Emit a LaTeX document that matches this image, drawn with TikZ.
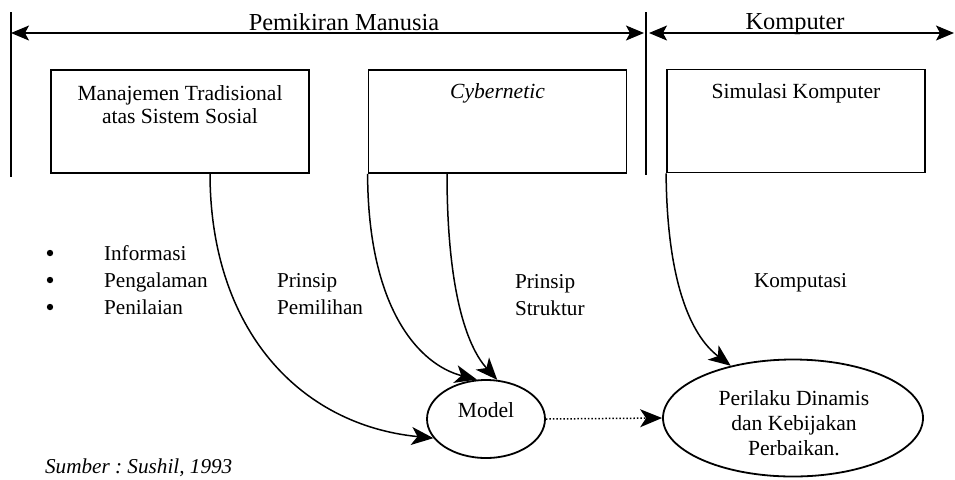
\documentclass[tikz,border=0pt]{standalone}
\usepackage{fontspec}
\setmainfont{Liberation Serif}
\usetikzlibrary{arrows.meta,shapes.geometric}
\frenchspacing
\begin{document}
\begin{tikzpicture}[x=0.5pt,y=-0.5pt,
  frame/.style={draw,line width=0.9pt,minimum width=129pt,minimum height=51.5pt,inner sep=0pt},
  oval/.style={draw,ellipse,line width=0.9pt,inner sep=0pt},
  boxtext/.style={font=\fontsize{10.8}{11.5}\selectfont,align=center,anchor=base},
  lbl/.style={font=\fontsize{10.6}{12}\selectfont,anchor=base west},
  dot/.style={circle,fill,inner sep=0pt,minimum size=3.2pt},
  head/.style={font=\fontsize{12.2}{14}\selectfont,anchor=base},
  flow/.style={line width=0.75pt,-{Stealth[length=11pt,width=9pt,inset=3pt]}},
  span/.style={line width=0.6pt,{Stealth[length=9pt,width=7.5pt,inset=2pt]}-{Stealth[length=9pt,width=7.5pt,inset=2pt]}},
  rule/.style={line width=0.8pt}]
\useasboundingbox (0,0) rectangle (955,479);

% section rules and spans
\coordinate (l0) at (11,12);   \coordinate (l1) at (11,177);
\coordinate (m0) at (646,12);  \coordinate (m1) at (646,175);
\coordinate (s1) at (11,33);   \coordinate (s2) at (644,33);
\coordinate (s3) at (649,33);  \coordinate (s4) at (954,33);
\draw[rule] (l0) -- (l1);
\draw[rule] (m0) -- (m1);
\draw[span] (s1) -- (s2);
\draw[span] (s3) -- (s4);
\node[head] (hpm) at (344,30) {Pemikiran Manusia};
\node[head] (hkp) at (795,29) {Komputer};

% source boxes
\node[frame] (b1) at (180,121.5) {};
\node[frame] (b2) at (497.5,121.5) {};
\node[frame] (b3) at (796,121) {};
\node[boxtext] (t1) at (180,123) {Manajemen Tradisional\\atas Sistem Sosial};
\node[boxtext] (t2) at (497.5,98) {\itshape Cybernetic};
\node[boxtext] (t3) at (796,98) {Simulasi Komputer};

% results
\node[oval,minimum width=59pt,minimum height=39pt] (md) at (486,419) {};
\node[boxtext] (tmd) at (486,417) {Model};
\node[oval,minimum width=130pt,minimum height=58.5pt] (pk) at (793,418) {};
\node[boxtext,font=\fontsize{10.8}{12.5}\selectfont] (tpk) at (794,455) {Perilaku Dinamis\\dan Kebijakan\\Perbaikan.};

% connectors
\coordinate (o1) at (210,173);
\coordinate (o2) at (447,173);
\draw[flow] (o1) .. controls (210,330) and (300,425) .. (md.200);
\draw[flow] (b2.south west) .. controls (368,310) and (420,365) .. (md.103);
\draw[flow] (o2) .. controls (447,300) and (470,350) .. (md.74);
\draw[flow] (b3.south west) .. controls (667,280) and (690,335) .. (pk.140);
\draw[flow,densely dotted] (md.east) -- (pk.west);

% labels
\foreach \yy/\tx [count=\i] in {260/Informasi,287/Pengalaman,314/Penilaian}{
  \node[dot] (bu\i) at (50,\yy-7) {};
  \node[lbl] (it\i) at (97,\yy) {\tx};
}
\node[lbl] (pp1) at (270,287) {Prinsip};
\node[lbl] (pp2) at (270,314) {Pemilihan};
\node[lbl] (ps1) at (508,288) {Prinsip};
\node[lbl] (ps2) at (508,315) {Struktur};
\node[lbl] (kp) at (747,287) {Komputasi};
\node[lbl,font=\fontsize{10.6}{12}\selectfont\itshape] (src) at (38,473) {Sumber : Sushil, 1993};
\end{tikzpicture}
\end{document}
